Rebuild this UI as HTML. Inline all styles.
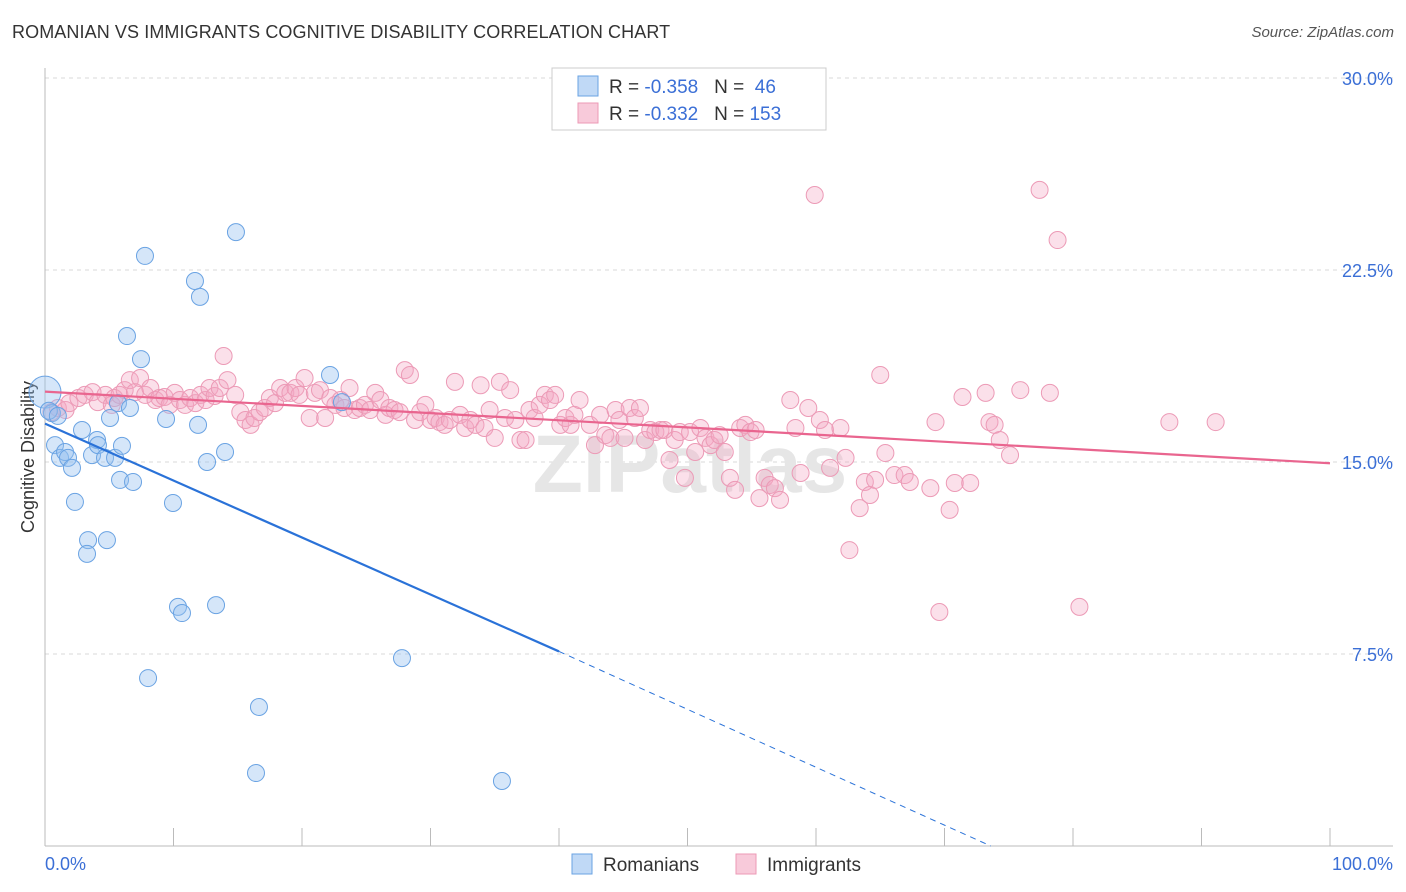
<!DOCTYPE html>
<html><head><meta charset="utf-8">
<style>
body{margin:0;background:#fff;font-family:"Liberation Sans",sans-serif;}
#wrap{position:relative;width:1406px;height:892px;overflow:hidden;}
.title{position:absolute;left:12px;top:22px;font-size:18px;color:#333;letter-spacing:0.1px;}
.source{position:absolute;right:12px;top:24px;font-size:15px;color:#555;font-style:italic;}
</style></head>
<body>
<div id="wrap">
<div class="title">ROMANIAN VS IMMIGRANTS COGNITIVE DISABILITY CORRELATION CHART</div>
<div class="source">Source: ZipAtlas.com</div>
<svg id="chart" width="1406" height="892" style="position:absolute;left:0;top:0"></svg>
</div>
<script>
const yTicks=[7.5,15,22.5,30];
const yTickLabels=["7.5%","15.0%","22.5%","30.0%"];
const xTickLabels=["0.0%","100.0%"];
const blueX=[0,0.54,0.78,1.17,1.56,1.79,2.1,2.33,2.88,3.35,3.27,3.66,4.05,4.12,4.67,4.82,5.06,5.45,5.68,5.84,5.99,6.38,6.61,6.85,7.47,7.78,8.02,9.42,9.96,10.35,10.66,11.67,11.91,12.06,12.61,13.31,14.01,14.86,16.65,16.42,22.18,23.11,27.78,35.56,0.3,1.0];
const blueY=[17.73,16.91,15.66,15.16,15.39,15.16,14.77,13.44,16.25,11.95,11.41,15.27,15.86,15.66,15.16,11.95,16.72,15.16,17.3,14.3,15.63,19.92,17.11,14.22,19.02,23.05,6.56,16.68,13.4,9.34,9.1,22.07,16.45,21.45,15.0,9.41,15.39,23.98,5.43,2.85,18.4,17.34,7.34,2.54,17.0,16.8];
const pinkX=[0.5,1.0,1.6,1.9,2.6,3.1,3.7,4.1,4.7,5.2,5.4,5.8,6.2,6.6,7.0,7.4,7.8,8.2,8.6,8.9,9.3,9.7,10.1,10.5,10.9,11.3,11.7,12.1,12.5,12.8,13.2,13.6,13.9,14.2,14.8,15.2,15.6,16.0,16.3,16.7,17.1,17.5,17.9,18.3,18.7,19.1,19.5,19.8,20.2,20.6,21.0,21.4,21.8,22.2,22.6,23.0,23.3,23.7,24.1,24.5,24.9,25.3,25.7,26.1,26.5,26.8,27.2,27.6,28.0,28.4,28.8,29.2,29.6,30.0,30.4,30.7,31.1,31.5,31.9,32.3,32.7,33.1,33.5,33.9,34.2,34.6,35.0,35.4,35.8,36.2,36.6,37.0,37.4,37.7,38.1,38.5,38.9,39.3,39.7,40.1,40.5,40.9,41.2,41.6,42.4,42.8,43.2,43.6,44.0,44.4,44.7,45.1,45.5,45.9,46.3,46.7,47.1,47.5,47.9,48.2,48.6,49.0,49.4,49.8,50.2,50.6,51.0,51.4,51.8,52.1,52.5,52.9,53.3,53.7,54.1,54.5,54.9,55.3,55.6,56.0,56.4,56.8,57.2,58.0,58.4,58.8,59.4,59.9,60.3,60.7,61.1,61.9,62.3,62.6,63.4,63.8,64.2,64.6,65.0,65.4,66.1,66.9,67.3,68.9,69.3,69.6,70.4,70.8,71.4,72.0,73.2,73.5,73.9,74.3,75.1,75.9,77.4,78.2,78.8,80.5,87.5,91.1];
const pinkY=[16.95,17.11,17.03,17.30,17.5,17.62,17.73,17.34,17.62,17.23,17.5,17.62,17.81,18.2,17.73,18.28,17.62,17.89,17.42,17.5,17.54,17.23,17.7,17.42,17.23,17.5,17.30,17.62,17.42,17.89,17.58,17.89,19.14,18.2,17.62,16.95,16.64,16.45,16.72,16.95,17.11,17.5,17.3,17.89,17.7,17.7,17.89,17.62,18.28,16.72,17.7,17.81,16.72,17.5,17.23,17.42,17.11,17.89,17.03,17.11,17.23,17.03,17.7,17.42,16.84,17.11,17.03,16.95,18.59,18.4,16.64,16.95,17.23,16.64,16.72,16.56,16.45,16.64,18.13,16.84,16.33,16.64,16.45,18.0,16.33,17.03,15.94,18.13,16.72,17.81,16.64,15.86,15.86,17.03,16.72,17.23,17.62,17.42,17.62,16.45,16.72,16.45,16.84,17.42,16.45,15.66,16.84,16.05,15.94,17.03,16.64,15.94,17.11,16.72,17.11,15.86,16.25,16.17,16.25,16.25,15.08,15.86,16.17,14.38,16.17,15.39,16.33,15.94,15.66,15.86,16.05,15.39,14.38,13.91,16.33,16.45,16.17,16.25,13.59,14.38,14.1,13.98,13.52,17.42,16.33,14.57,17.11,25.43,16.64,16.25,14.77,16.33,15.16,11.56,13.2,14.22,13.71,14.3,18.4,15.35,14.49,14.49,14.22,13.98,16.56,9.14,13.13,14.18,17.54,14.18,17.7,16.56,16.45,15.86,15.27,17.81,25.63,17.7,23.67,9.34,16.56,16.56];
const blueLine=[[0,16.5],[40,7.6]];
const blueDash=[[40,7.6],[73.6,0]];
const pinkLine=[[0,17.75],[100,14.95]];

const NS="http://www.w3.org/2000/svg";
const svg=document.getElementById('chart');
const X=v=>45+v*12.85;
const Y=v=>846-v*25.6;
function mk(tag,attrs,parent){const e=document.createElementNS(NS,tag);for(const k in attrs)e.setAttribute(k,attrs[k]);(parent||svg).appendChild(e);return e;}

// gridlines & y labels
yTicks.forEach((t,i)=>{
  const g=mk('line',{x1:45,x2:1393,y1:Y(t),y2:Y(t),stroke:'#d8d8d8','stroke-dasharray':'4,4','stroke-width':1});
  
  
  const tx=mk('text',{x:1393,y:Y(t)+7,'text-anchor':'end','font-size':18,fill:'#3b6fd6','font-family':'Liberation Sans, sans-serif'});
  tx.textContent=yTickLabels[i];
  
  
});
// axes
const ax=mk('line',{x1:45,x2:45,y1:68,y2:846,stroke:'#bbb'});


const bx=mk('line',{x1:45,x2:1393,y1:846,y2:846,stroke:'#bbb'});


for(let i=0;i<=10;i++){
  const t=mk('line',{x1:X(i*10),x2:X(i*10),y1:828,y2:846,stroke:'#bbb'});
  
  
}
[[0,'start',45],[100,'end',1393]].forEach((d,i)=>{
  const tx=mk('text',{x:d[2],y:870,'text-anchor':d[1],'font-size':18,fill:'#3b6fd6','font-family':'Liberation Sans, sans-serif'});
  tx.textContent=xTickLabels[i];
  
  
});
const yt=mk('text',{x:34,y:457,'text-anchor':'middle','font-size':18,fill:'#333',transform:'rotate(-90 34 457)','font-family':'Liberation Sans, sans-serif'});
yt.textContent='Cognitive Disability';


// watermark
const wm=mk('text',{x:690,y:492,'text-anchor':'middle','font-size':82,fill:'#e6e6e6','font-weight':'bold','font-family':'Liberation Sans, sans-serif'});
wm.textContent='ZIPatlas';



// points
pinkX.forEach((x,i)=>{
  const c=mk('circle',{cx:X(x),cy:Y(pinkY[i]),r:8.5,fill:'rgba(244,167,194,0.35)',stroke:'#ec9ab6','stroke-width':1});
  
  
});
blueX.forEach((x,i)=>{
  const c=mk('circle',{cx:X(x),cy:Y(blueY[i]),r:i===0?16:8.5,fill:'rgba(150,192,240,0.4)',stroke:'#6aa3e3','stroke-width':1});
  
  
});
// trend lines
const pl=mk('line',{x1:X(pinkLine[0][0]),y1:Y(pinkLine[0][1]),x2:X(pinkLine[1][0]),y2:Y(pinkLine[1][1]),stroke:'#e9658f','stroke-width':2.2});


const bl=mk('line',{x1:X(blueLine[0][0]),y1:Y(blueLine[0][1]),x2:X(blueLine[1][0]),y2:Y(blueLine[1][1]),stroke:'#2a72d8','stroke-width':2.2});


const bd=mk('line',{x1:X(blueDash[0][0]),y1:Y(blueDash[0][1]),x2:X(blueDash[1][0]),y2:Y(blueDash[1][1]),stroke:'#2a72d8','stroke-width':1,'stroke-dasharray':'6,5'});



// legend box
const lg=mk('g',{});


mk('rect',{x:552,y:68,width:274,height:62,fill:'#fff',stroke:'#ccc'},lg);
const rows=[['rgba(150,192,240,0.6)','#6aa3e3','-0.358',' 46',86],['rgba(244,167,194,0.6)','#ec9ab6','-0.332','153',113]];
rows.forEach(r=>{
  mk('rect',{x:578,y:r[4]-10,width:20,height:20,fill:r[0],stroke:r[1]},lg);
  const t=mk('text',{x:609,y:r[4]+7,'font-size':19,fill:'#333','font-family':'Liberation Sans, sans-serif'},lg);
  t.innerHTML='R = <tspan fill="#3b6fd6">'+r[2]+'</tspan>&#160;&#160;&#160;N = <tspan fill="#3b6fd6" xml:space="preserve">'+r[3]+'</tspan>';
});
// bottom legend
const bl2=mk('g',{});


mk('rect',{x:572,y:854,width:20,height:20,fill:'rgba(150,192,240,0.6)',stroke:'#6aa3e3'},bl2);
let t1=mk('text',{x:603,y:871,'font-size':19,fill:'#333','font-family':'Liberation Sans, sans-serif'},bl2);t1.textContent='Romanians';
mk('rect',{x:736,y:854,width:20,height:20,fill:'rgba(244,167,194,0.6)',stroke:'#ec9ab6'},bl2);
let t2=mk('text',{x:767,y:871,'font-size':19,fill:'#333','font-family':'Liberation Sans, sans-serif'},bl2);t2.textContent='Immigrants';
</script>
</body></html>
